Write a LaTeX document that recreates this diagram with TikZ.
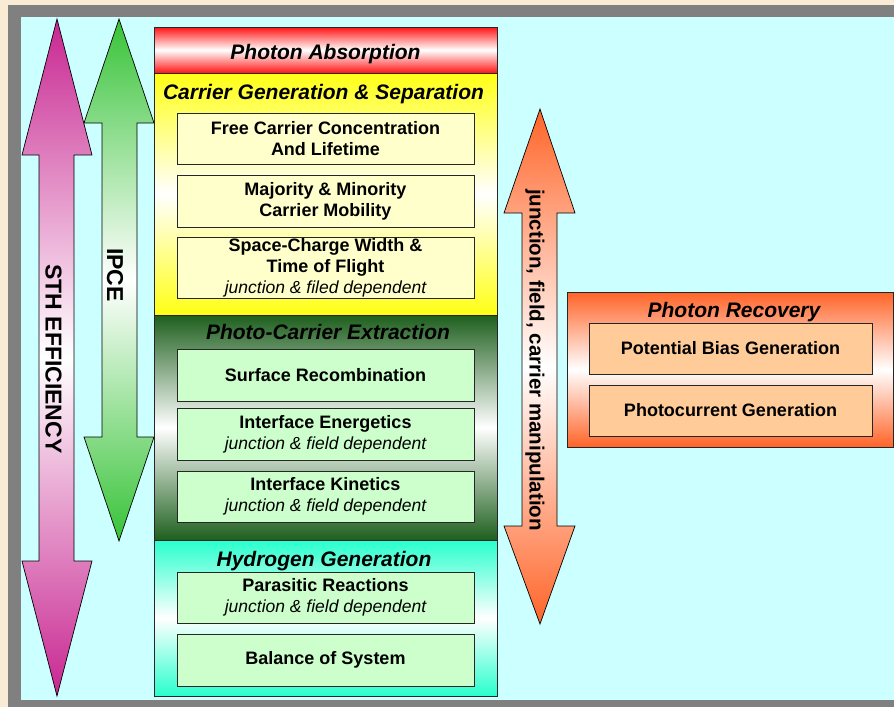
\documentclass[tikz,border=0pt]{standalone}
\usepackage{fontspec}
\setmainfont{Liberation Sans}
\definecolor{bgcyan}{RGB}{204,255,255}
\definecolor{framegray}{RGB}{128,128,128}
\definecolor{beige}{RGB}{250,236,212}
\definecolor{magA}{RGB}{200,38,145}
\definecolor{grnA}{RGB}{55,195,55}
\definecolor{orgA}{RGB}{255,100,40}
\definecolor{absred}{RGB}{255,20,20}
\definecolor{genyel}{RGB}{255,255,20}
\definecolor{extgrn}{RGB}{30,95,30}
\definecolor{hydaq}{RGB}{40,255,205}
\definecolor{recorg}{RGB}{255,100,40}
\definecolor{boxyel}{RGB}{255,255,204}
\definecolor{boxgrn}{RGB}{204,255,204}
\definecolor{boxpch}{RGB}{255,204,153}
\tikzset{
  section/.style={draw=black!85, line width=0.8pt, inner sep=0pt, minimum width=343pt},
  ttl/.style={font=\fontsize{21}{24}\selectfont\bfseries\itshape, anchor=base, inner sep=0pt},
  sub/.style={draw=black!85, line width=0.8pt, inner sep=0pt, minimum width=297pt, align=center,
    font=\fontsize{18}{21}\selectfont\bfseries},
  blockarrow/.style={draw=black, line width=0.7pt},
  vlabel/.style={rotate=-90, font=\fontsize{23}{26}\selectfont\bfseries, inner sep=0pt},
}
\newcommand{\depnote}[1]{{\mdseries\itshape\fontsize{17.5}{21}\selectfont #1}}
\begin{document}
\begin{tikzpicture}[x=1pt,y=-1pt]
\useasboundingbox (0,0) rectangle (894,707);
% background and frame
\fill[beige] (0,0) rectangle (894,707);
\fill[framegray] (8,5) rectangle (894,707);
\fill[bgcyan] (21,17) rectangle (894,700);

% left block arrows
\path[blockarrow, top color=magA, bottom color=magA, middle color=white]
  (57,19) -- (92,155) -- (74,155) -- (74,561) -- (92,561) -- (57,696)
  -- (22,561) -- (39,561) -- (39,155) -- (22,155) -- cycle;
\node[vlabel] (sth) at (53.5,359) {STH EFFICIENCY};

\path[blockarrow, top color=grnA, bottom color=grnA, middle color=white]
  (119,19) -- (154,123) -- (137,123) -- (137,437) -- (154,437) -- (119,541)
  -- (84,437) -- (102,437) -- (102,123) -- (84,123) -- cycle;
\node[vlabel] (ipce) at (115,275) {IPCE};

% orange block arrow
\path[blockarrow, top color=orgA, bottom color=orgA, middle color=white]
  (540,109) -- (575,213) -- (557,213) -- (557,526) -- (575,526) -- (540,624)
  -- (504,526) -- (522,526) -- (522,213) -- (504,213) -- cycle;
\node[vlabel, font=\fontsize{20.5}{24}\selectfont\bfseries] (jfc) at (535,360)
  {junction, field, carrier manipulation};

% main column sections
\node[section, minimum height=46pt, top color=absred, bottom color=absred, middle color=white]
  (abs) at (325.5,50) {};
\node[section, minimum height=242pt, top color=genyel, bottom color=genyel, middle color=white]
  (gen) at (325.5,194) {};
\node[section, minimum height=225pt, top color=extgrn, bottom color=extgrn, middle color=white]
  (ext) at (325.5,427.5) {};
\node[section, minimum height=156pt, top color=hydaq, bottom color=hydaq, middle color=white]
  (hyd) at (325.5,618) {};

\node[ttl] (absT) at (325.5,59) {Photon Absorption};
\node[ttl] (genT) at (323.5,99) {Carrier Generation \& Separation};
\node[ttl] (extT) at (328,339) {Photo-Carrier Extraction};
\node[ttl] (hydT) at (324,566) {Hydrogen Generation};

% sub boxes
\node[sub, fill=boxyel, minimum height=51pt] (fc) at (325.5,138.5)
  {Free Carrier Concentration\\And Lifetime};
\node[sub, fill=boxyel, minimum height=52pt] (mm) at (325.5,201)
  {Majority \& Minority\\Carrier Mobility};
\node[sub, fill=boxyel, minimum height=61pt] (sc) at (325.5,267.5)
  {Space-Charge Width \&\\Time of Flight\\\depnote{junction \& filed dependent}};

\node[sub, fill=boxgrn, minimum height=52pt] (sr) at (325.5,375)
  {Surface Recombination};
\node[sub, fill=boxgrn, minimum height=52pt] (ie) at (325.5,434)
  {Interface Energetics\\\depnote{junction \& field dependent}};
\node[sub, fill=boxgrn, minimum height=51pt] (ik) at (325.5,496.5)
  {Interface Kinetics\\\depnote{junction \& field dependent}};

\node[sub, fill=boxgrn, minimum height=51pt] (pr) at (325.5,597.5)
  {Parasitic Reactions\\\depnote{junction \& field dependent}};
\node[sub, fill=boxgrn, minimum height=52pt] (bs) at (325.5,660)
  {Balance of System};

% photon recovery
\node[section, minimum width=326pt, minimum height=155pt, top color=recorg, bottom color=recorg, middle color=white]
  (rec) at (730,369.5) {};
\node[ttl] (recT) at (734,317) {Photon Recovery};
\node[sub, fill=boxpch, minimum width=283pt, minimum height=51pt] (pb) at (730.5,348.5)
  {Potential Bias Generation};
\node[sub, fill=boxpch, minimum width=283pt, minimum height=51pt] (pc) at (730.5,410.5)
  {Photocurrent Generation};
\end{tikzpicture}
\end{document}
